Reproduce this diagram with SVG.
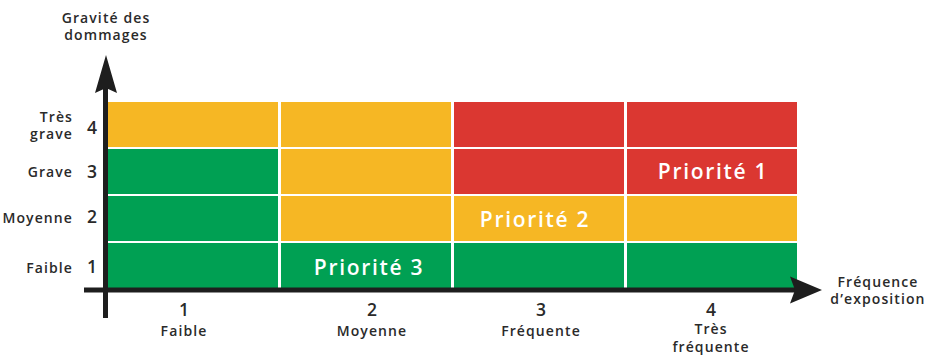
<svg xmlns="http://www.w3.org/2000/svg" width="925" height="356" viewBox="0 0 925 356">
  <style>
    .o { fill: #F6B724; }
    .r { fill: #DB3731; }
    .g { fill: #00A053; }
    .lbl { font-family: "Open Sans", "DejaVu Sans", sans-serif; font-weight: 600; font-size: 14px; fill: #2a2a2a; letter-spacing: 1.1px; }
    .num { font-family: "Open Sans", "DejaVu Sans", sans-serif; font-weight: 600; font-size: 17.5px; fill: #2a2a2a; }
    .prio { font-family: "Open Sans", "DejaVu Sans", sans-serif; font-weight: 600; font-size: 21px; fill: #ffffff; letter-spacing: 1.7px; }
    .axis { stroke: #1e1e1e; stroke-width: 5; fill: none; }
  </style>
  <rect width="925" height="356" fill="#ffffff"/>

  <!-- risk matrix cells -->
  <g id="matrix">
    <!-- severity 4 -->
    <rect class="o" x="108" y="102" width="170" height="45"/>
    <rect class="o" x="281" y="102" width="170" height="45"/>
    <rect class="r" x="454" y="102" width="170" height="45"/>
    <rect class="r" x="627" y="102" width="170" height="45"/>
    <!-- severity 3 -->
    <rect class="g" x="108" y="149" width="170" height="45"/>
    <rect class="o" x="281" y="149" width="170" height="45"/>
    <rect class="r" x="454" y="149" width="170" height="45"/>
    <rect class="r" x="627" y="149" width="170" height="45"/>
    <!-- severity 2 -->
    <rect class="g" x="108" y="196" width="170" height="45"/>
    <rect class="o" x="281" y="196" width="170" height="45"/>
    <rect class="o" x="454" y="196" width="170" height="45"/>
    <rect class="o" x="627" y="196" width="170" height="45"/>
    <!-- severity 1 -->
    <rect class="g" x="108" y="243" width="170" height="45"/>
    <rect class="g" x="281" y="243" width="170" height="45"/>
    <rect class="g" x="454" y="243" width="170" height="45"/>
    <rect class="g" x="627" y="243" width="170" height="45"/>
  </g>

  <g id="priorities">
    <text class="prio" x="713" y="179" text-anchor="middle">Priorité 1</text>
    <text class="prio" x="535" y="227" text-anchor="middle">Priorité 2</text>
    <text class="prio" x="369" y="275" text-anchor="middle">Priorité 3</text>
  </g>

  <!-- axes -->
  <g id="axes">
    <line class="axis" x1="105.5" y1="318" x2="105.5" y2="80"/>
    <polygon points="106,55 117,93 106,88 95,93" fill="#1e1e1e"/>
    <line class="axis" x1="84" y1="290" x2="800" y2="290"/>
    <polygon points="822,290 790,303.5 795,290 790,276.5" fill="#1e1e1e"/>
  </g>

  <g id="y-title">
    <text class="lbl" x="106" y="23" text-anchor="middle">Gravité des</text>
    <text class="lbl" x="106" y="40" text-anchor="middle">dommages</text>
  </g>

  <g id="y-labels">
    <text class="lbl" x="73" y="122" text-anchor="end">Très</text>
    <text class="lbl" x="73" y="139" text-anchor="end">grave</text>
    <text class="num" x="92" y="134" text-anchor="middle">4</text>
    <text class="lbl" x="73" y="177" text-anchor="end">Grave</text>
    <text class="num" x="92" y="178" text-anchor="middle">3</text>
    <text class="lbl" x="73" y="223" text-anchor="end">Moyenne</text>
    <text class="num" x="92" y="223" text-anchor="middle">2</text>
    <text class="lbl" x="73" y="273" text-anchor="end">Faible</text>
    <text class="num" x="92" y="273" text-anchor="middle">1</text>
  </g>

  <g id="x-title">
    <text class="lbl" x="878" y="287" text-anchor="middle">Fréquence</text>
    <text class="lbl" x="878" y="304" text-anchor="middle">d’exposition</text>
  </g>

  <g id="x-labels">
    <text class="num" x="184" y="316" text-anchor="middle">1</text>
    <text class="lbl" x="184" y="336" text-anchor="middle">Faible</text>
    <text class="num" x="372" y="316" text-anchor="middle">2</text>
    <text class="lbl" x="372" y="336" text-anchor="middle">Moyenne</text>
    <text class="num" x="541" y="316" text-anchor="middle">3</text>
    <text class="lbl" x="541" y="336" text-anchor="middle">Fréquente</text>
    <text class="num" x="711" y="316" text-anchor="middle">4</text>
    <text class="lbl" x="711" y="334" text-anchor="middle">Très</text>
    <text class="lbl" x="711" y="352" text-anchor="middle">fréquente</text>
  </g>
</svg>
